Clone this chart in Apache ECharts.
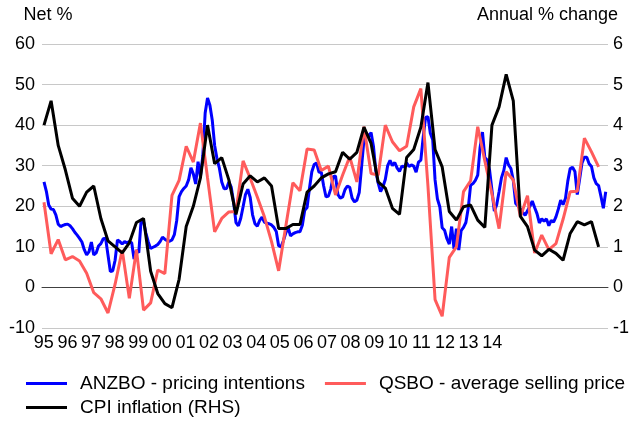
<!DOCTYPE html>
<html>
<head>
<meta charset="utf-8">
<script src="https://cdn.jsdelivr.net/npm/echarts@6/dist/echarts.min.js"></script>
<style>
html,body{margin:0;padding:0;background:#fff;}
#chart{width:632px;height:423px;}
</style>
</head>
<body>
<div id="chart"></div>
<script>
// Tick labels for the year axis
const yearLabels = ['95','96','97','98','99','00','01','02','03','04','05','06','07','08','09','10','11','12','13','14'];

// ANZBO pricing intentions, net %, monthly from Jan 1995
const anzbo = [
  26, 23.7, 20.3, 19.3, 19.2, 17.9, 15.6, 15, 15.3, 15.5, 15.6, 15.2,
  14.5, 13.6, 12.9, 12.1, 11.2, 9.3, 8, 8.8, 11.2, 8, 8.5, 10.2,
  10.8, 12, 12.1, 8, 3.9, 4.1, 6.7, 11.7, 11.3, 10.7, 11.3, 11,
  11.3, 11, 7, 9.1, 8.6, 16.8, 16.2, 13.4, 11.2, 9.6, 9.9, 10.2,
  10.6, 11.3, 12.4, 11.9, 11.5, 11.4, 11.7, 13, 16.5, 22.4, 23.6, 24.4,
  25, 26.5, 29.5, 28, 25.5, 31, 27.3, 32.4, 43, 46.7, 44.9, 41.2,
  35, 31.7, 29.4, 26, 24.3, 24.4, 26, 24.7, 21, 16, 15.2, 17,
  19.9, 22.9, 24.2, 22.2, 17.9, 15.7, 15.1, 16.5, 17.3, 16.1, 15.8, 15.7,
  15.4, 14.8, 13.8, 10.3, 10, 11.5, 13.4, 14.8, 12.7, 13.2, 13.5, 13.7,
  13.7, 15.3, 19, 19.7, 24.4, 28.5, 30.3, 30.7, 28.4, 28.4, 25, 22.3,
  22.5, 24.3, 27.3, 27.5, 22.9, 22, 22.3, 24.1, 25, 24.7, 22, 21.1,
  21.5, 23.4, 29.8, 36.5, 38, 37.2, 38.2, 34.8, 28.7, 25.7, 23.6, 24.8,
  26.6, 30, 31.3, 30, 30.8, 29.4, 28.6, 29.9, 29.7, 30.7, 29.8, 30.2,
  29.9, 28.4, 30.9, 31.4, 37.1, 41.9, 42.1, 38, 36.4, 26.5, 21.8, 19.9,
  14.7, 14.1, 12, 10.7, 15, 9.5, 14.5, 9.2, 14, 14.8, 16, 19.6,
  25.2, 25.6, 26.4, 27.7, 34.5, 38.3, 32, 31.4, 28.9, 24, 18.8, 20.4,
  23.6, 27, 28.8, 32, 30.2, 29.3, 26.4, 20.7, 20.1, 19.3, 18.5, 17.8,
  18.9, 20, 21.3, 19.7, 18.2, 15.9, 16.9, 16.3, 16.9, 15.2, 16.5, 16.1,
  17.4, 19.3, 21.5, 20.4, 21.9, 26.2, 29.3, 29.6, 28.6, 22.9, 26.7, 30.7,
  32.1, 32.1, 30.5, 29.8, 27, 25.6, 25.1, 22.4, 19.5, 23.6
];

// QSBO average selling price, net %, quarterly from 1995 Q1
const qsbo = [
  21, 8.3, 11.8, 6.8,
  7.6, 6.5, 3.5, -1.3,
  -2.8, -6.3, 0.8, 9.2,
  -2.7, 9.3, -5.6, -3.8,
  4.3, 3.4, 22.7, 26.4,
  34.8, 30.9, 40.5, 27,
  13.7, 17, 18.6, 18.7,
  31.2, 26.9, 22.3, 17.4,
  11.3, 4.1, 15, 25.8,
  23.8, 34.1, 33.9, 28.8,
  29.9, 22.8, 27.7, 32.2,
  26, 39.6, 28.1, 27.7,
  40, 35.9, 33.7, 34.8,
  44.5, 49, 25, -3,
  -7.1, 7.4, 10, 23.6,
  26.3, 39.6, 31.2, 23,
  14.5, 28.5, 26.5, 17.4,
  22.6, 8.5, 12.9, 9.3,
  10.8, 16.8, 23.6, 23.7,
  36.8, 33.4, 29.7
];

// CPI inflation, annual % change, quarterly from 1995 Q1 (right axis)
const cpi = [
  4.0, 4.6, 3.5, 2.9,
  2.2, 2.0, 2.35, 2.5,
  1.7, 1.15, 1.0, 0.85,
  1.1, 1.6, 1.7, 0.4,
  -0.15, -0.4, -0.5, 0.2,
  1.5, 2.0, 2.7, 4.0,
  3.05, 3.2, 2.65, 1.8,
  2.55, 2.75, 2.6, 2.7,
  2.5, 1.45, 1.45, 1.55,
  1.55, 2.35, 2.5, 2.7,
  2.8, 2.85, 3.33, 3.16,
  3.33, 3.95, 3.55, 2.6,
  2.45, 1.95, 1.8, 3.2,
  3.4, 3.95, 5.05, 3.4,
  2.97, 1.87, 1.66, 1.99,
  2.03, 1.66, 1.48, 4.0,
  4.45, 5.25, 4.6, 1.75,
  1.5, 0.92, 0.78, 0.94,
  0.84, 0.67, 1.33, 1.62,
  1.54, 1.62, 1.0
];

const startYear = 1995;
const monthly = arr => arr.map((v, j) => [startYear + j / 12, v]);
const quarterly = arr => arr.map((v, i) => [startYear + i / 4, v]);

const FONT = "'Liberation Sans', Arial, sans-serif";
const chart = echarts.init(document.getElementById('chart'), null, {renderer: 'canvas'});

chart.setOption({
  animation: false,
  backgroundColor: '#ffffff',
  textStyle: {fontFamily: FONT},
  grid: [
    {left: 42, right: 21, top: 44, height: 284, containLabel: false},
    {left: 32, width: 472, top: 44, height: 284, containLabel: false}
  ],
  xAxis: [
    {
      gridIndex: 0, type: 'value', min: 1994.93, max: 2014.83,
      axisLine: {show: true, onZero: true, lineStyle: {color: '#404040', width: 1}},
      axisTick: {show: false}, axisLabel: {show: false}, splitLine: {show: false}
    },
    {
      gridIndex: 1, type: 'category', data: yearLabels, boundaryGap: true,
      axisLine: {show: false}, axisTick: {show: false}, splitLine: {show: false},
      axisLabel: {interval: 0, margin: 6, color: '#000', fontSize: 18, fontFamily: FONT}
    }
  ],
  yAxis: [
    {
      gridIndex: 0, type: 'value', min: -10, max: 60, interval: 10,
      name: 'Net %', nameLocation: 'end', nameGap: 20,
      nameTextStyle: {color: '#000', fontSize: 18, fontFamily: FONT, align: 'center', padding: [0, 0, 0, 12]},
      axisLine: {show: false}, axisTick: {show: false},
      axisLabel: {color: '#000', fontSize: 18, fontFamily: FONT, margin: 7},
      splitLine: {show: true, lineStyle: {color: '#c8c8c8', width: 1}}
    },
    {
      gridIndex: 0, type: 'value', min: -1, max: 6, interval: 1, position: 'right',
      name: 'Annual % change', nameLocation: 'end', nameGap: 20,
      nameTextStyle: {color: '#000', fontSize: 18, fontFamily: FONT, align: 'right', padding: [0, -10, 0, 0]},
      axisLine: {show: false}, axisTick: {show: false},
      axisLabel: {color: '#000', fontSize: 18, fontFamily: FONT, margin: 5},
      splitLine: {show: false}
    },
    {
      gridIndex: 1, type: 'value', min: 0, max: 1, show: false
    }
  ],
  legend: [
    {
      data: ['ANZBO - pricing intentions', 'QSBO - average selling price'],
      left: 26, top: 374, padding: 0, icon: 'rect', itemWidth: 41, itemHeight: 3, itemGap: 20,
      textStyle: {color: '#000', fontSize: 19, fontFamily: FONT, padding: [0, 0, 0, 8]}
    },
    {
      data: ['CPI inflation (RHS)'],
      left: 26, top: 398, padding: 0, icon: 'rect', itemWidth: 41, itemHeight: 3,
      textStyle: {color: '#000', fontSize: 19, fontFamily: FONT, padding: [0, 0, 0, 8]}
    }
  ],
  series: [
    {
      name: 'ANZBO - pricing intentions', type: 'line', xAxisIndex: 0, yAxisIndex: 0,
      data: monthly(anzbo), symbol: 'none', lineStyle: {color: '#0000ff', width: 3}, itemStyle: {color: '#0000ff'}
    },
    {
      name: 'QSBO - average selling price', type: 'line', xAxisIndex: 0, yAxisIndex: 0,
      data: quarterly(qsbo), symbol: 'none', lineStyle: {color: '#ff5b5b', width: 3}, itemStyle: {color: '#ff5b5b'}
    },
    {
      name: 'CPI inflation (RHS)', type: 'line', xAxisIndex: 0, yAxisIndex: 1,
      data: quarterly(cpi), symbol: 'none', lineStyle: {color: '#000000', width: 3}, itemStyle: {color: '#000000'}
    }
  ]
});
</script>
</body>
</html>
